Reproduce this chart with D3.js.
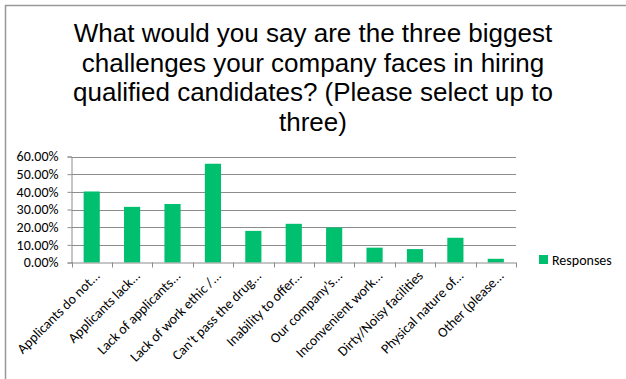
<!DOCTYPE html>
<html>
<head>
<meta charset="utf-8">
<script src="https://cdn.jsdelivr.net/npm/d3@7"></script>
<style>
  html, body { margin: 0; padding: 0; background: #fff; }
  svg { display: block; }
</style>
</head>
<body>
<svg id="chart" width="626" height="379"></svg>
<script>
// Survey responses: share of respondents choosing each hiring challenge
const categories = [
  "Applicants do not...",
  "Applicants lack...",
  "Lack of applicants...",
  "Lack of work ethic /...",
  "Can't pass the drug...",
  "Inability to offer...",
  "Our company\u2019s...",
  "Inconvenient work...",
  "Dirty/Noisy facilities",
  "Physical nature of...",
  "Other (please..."
];
const responses = [0.402, 0.315, 0.331, 0.559, 0.179, 0.219, 0.198, 0.084, 0.076, 0.140, 0.021];
const yTicks = [0, 0.1, 0.2, 0.3, 0.4, 0.5, 0.6];
const titleLines = [
  "What would you say are the three biggest",
  "challenges your company faces in hiring",
  "qualified candidates? (Please select up to",
  "three)"
];
const seriesName = "Responses";

const svg = d3.select("#chart");
const W = 626, H = 379;
const plot = { left: 71.5, right: 516, top: 156.5, bottom: 262.5 };
const barColor = "#00BF6F";
const axisColor = "#8c8c8c";
const labelFont = "Carlito, Lato, 'Open Sans', sans-serif";
const labelSize = 14;

// Frame lines (top and left edges)
svg.append("line").attr("x1", 5).attr("x2", W).attr("y1", 5.5).attr("y2", 5.5)
  .attr("stroke", "#999").attr("stroke-width", 1.5);
svg.append("line").attr("x1", 5.5).attr("x2", 5.5).attr("y1", 5).attr("y2", H)
  .attr("stroke", "#999").attr("stroke-width", 1.5);

// Title
const title = svg.append("text")
  .attr("text-anchor", "middle")
  .attr("font-family", "'Liberation Sans', Arial, sans-serif")
  .attr("font-size", 26)
  .attr("fill", "#000");
titleLines.forEach((t, i) => {
  title.append("tspan").attr("x", 313).attr("y", 42 + i * 29.5).text(t);
});

const x = d3.scaleBand().domain(categories).range([plot.left, plot.right]).paddingInner(0.6).paddingOuter(0.3);
const xEdge = d3.scaleLinear().domain([0, categories.length]).range([plot.left, plot.right]);
const y = d3.scaleLinear().domain([0, 0.6]).range([plot.bottom, plot.top]);

// Gridlines
svg.append("g").selectAll("line").data(yTicks.filter(d => d > 0)).join("line")
  .attr("x1", plot.left).attr("x2", plot.right)
  .attr("y1", d => Math.round(y(d)) + 0.5).attr("y2", d => Math.round(y(d)) + 0.5)
  .attr("stroke", axisColor).attr("stroke-width", 1);

// Bars
svg.append("g").selectAll("rect").data(responses).join("rect")
  .attr("x", (d, i) => x(categories[i]))
  .attr("width", x.bandwidth())
  .attr("y", d => y(d))
  .attr("height", d => y(0) - y(d))
  .attr("fill", barColor);

// Y axis
const yAxis = svg.append("g")
  .attr("transform", `translate(${plot.left},0)`)
  .call(d3.axisLeft(y).tickValues(yTicks).tickSize(4).tickPadding(9)
    .tickFormat(d => (d * 100).toFixed(2) + "%"));
yAxis.select(".domain").attr("stroke", axisColor);
yAxis.selectAll(".tick line").attr("stroke", axisColor);
yAxis.selectAll(".tick text").attr("font-family", labelFont).attr("font-size", labelSize).attr("fill", "#000");

// X axis: ticks at category boundaries
const xAxisG = svg.append("g").attr("transform", `translate(0,${plot.bottom})`);
xAxisG.append("line").attr("x1", plot.left).attr("x2", plot.right).attr("y1", 0.5).attr("y2", 0.5)
  .attr("stroke", axisColor);
xAxisG.selectAll("line.tk").data(d3.range(categories.length + 1)).join("line")
  .attr("class", "tk")
  .attr("x1", d => Math.round(xEdge(d)) + 0.5).attr("x2", d => Math.round(xEdge(d)) + 0.5)
  .attr("y1", 0).attr("y2", 5)
  .attr("stroke", axisColor);

// Rotated category labels
xAxisG.selectAll("text").data(categories).join("text")
  .attr("transform", d => `translate(${x(d) + x.bandwidth() / 2 + 9},${14}) rotate(-45)`)
  .attr("text-anchor", "end")
  .attr("font-family", labelFont)
  .attr("font-size", labelSize)
  .attr("fill", "#000")
  .text(d => d);

// Legend
const legend = svg.append("g").attr("transform", "translate(539,255)");
legend.append("rect").attr("width", 9).attr("height", 9).attr("fill", barColor);
legend.append("text").attr("x", 13).attr("y", 9.5)
  .attr("font-family", labelFont).attr("font-size", labelSize).attr("fill", "#000")
  .text(seriesName);
</script>
</body>
</html>
